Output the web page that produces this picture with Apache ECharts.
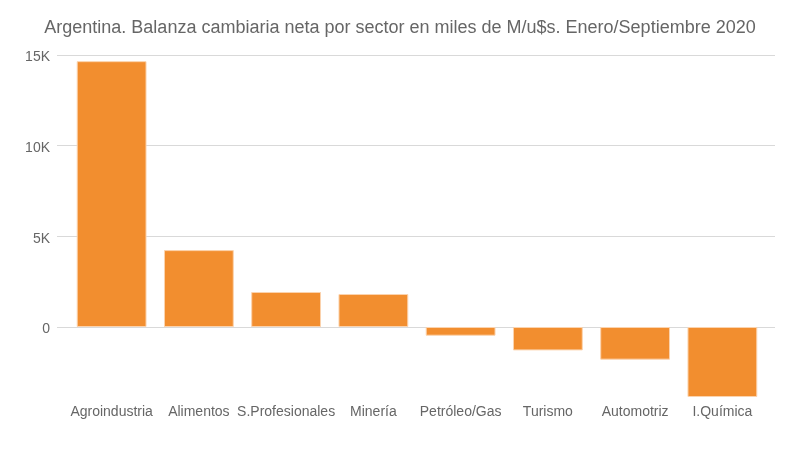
<!DOCTYPE html>
<html><head><meta charset="utf-8">
<script src="https://cdn.jsdelivr.net/npm/echarts@6/dist/echarts.min.js"></script>
<style>html,body{margin:0;padding:0;background:#fff}#c{width:800px;height:450px}</style>
</head><body><div id="c"></div>
<script>
const categories = ['Agroindustria','Alimentos','S.Profesionales','Minería','Petróleo/Gas','Turismo','Automotriz','I.Química'];
const values = [14660, 4240, 1930, 1820, -480, -1290, -1800, -3860];
const yTicks = [0, 5000, 10000, 15000];
const titleText = 'Argentina. Balanza cambiaria neta por sector en miles de M/u$s. Enero/Septiembre 2020';
const yMin = -3860, yMax = 15000;

const chart = echarts.init(document.getElementById('c'), null, {renderer:'canvas'});
chart.setOption({
  animation:false,
  backgroundColor:'#fff',
  textStyle:{fontFamily:'Liberation Sans'},
  title:{text:titleText,left:'center',top:14,textStyle:{fontSize:18,fontWeight:'normal',color:'#666',fontFamily:'Liberation Sans'}},
  grid:[
    {left:57,right:25,top:55,bottom:53},
    {left:68,right:34,top:55,bottom:53}
  ],
  xAxis:[
    {gridIndex:0,type:'category',data:categories,show:false},
    {gridIndex:1,type:'category',data:categories,axisLine:{show:false,onZero:false},axisTick:{show:false},
      axisLabel:{color:'#666',fontSize:14,margin:8,interval:0}}
  ],
  yAxis:[
    {gridIndex:0,type:'value',min:yMin,max:yMax,
      axisLabel:{color:'#666',fontSize:14,margin:7,customValues:yTicks,
        formatter:v=> '{a|' + (v===0?'0':(v/1000)+'K') + '}',
        rich:{a:{color:'#666',fontSize:14,padding:[5,0,0,0]}}},
      axisTick:{show:false,customValues:yTicks},
      splitLine:{show:true,lineStyle:{color:'#d9d9d9',width:1}},
      axisLine:{show:false}},
    {gridIndex:1,type:'value',min:yMin,max:yMax,show:false,splitLine:{show:false}}
  ],
  series:[{type:'bar',xAxisIndex:1,yAxisIndex:1,data:values,barCategoryGap:'20%',
    itemStyle:{color:'#f28e2f',borderColor:'#fbd3ae',borderWidth:1}}]
});
</script></body></html>
